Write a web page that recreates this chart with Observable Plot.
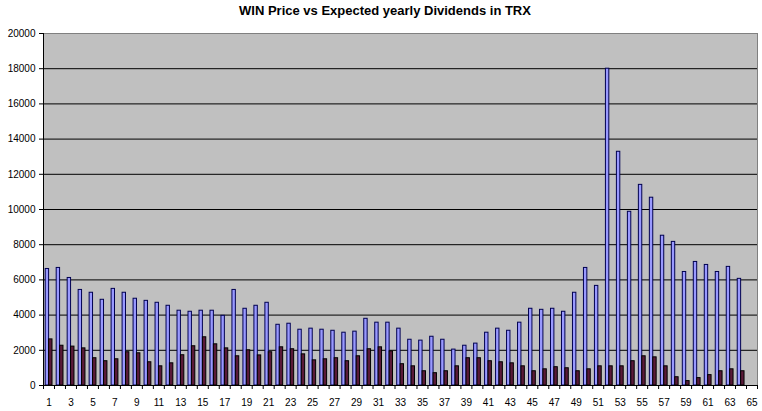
<!DOCTYPE html>
<html>
<head>
<meta charset="utf-8">
<script src="https://cdn.jsdelivr.net/npm/d3@7"></script>
<script src="https://cdn.jsdelivr.net/npm/@observablehq/plot@0.6"></script>
<style>
  html, body { margin: 0; padding: 0; background: #fff; overflow: hidden; }
  #title { box-sizing: border-box; height: 26px; padding-top: 4px; padding-left: 8px;
    font: bold 13px/1 "Liberation Sans", Arial, sans-serif; text-align: center; color: #000; }
  svg { display: block; }
</style>
</head>
<body>
<div id="title">WIN Price vs Expected yearly Dividends in TRX</div>
<div id="chart"></div>
<script>
const categories = [1,2,3,4,5,6,7,8,9,10,11,12,13,14,15,16,17,18,19,20,21,22,23,24,25,26,27,28,29,30,31,32,33,34,35,36,37,38,39,40,41,42,43,44,45,46,47,48,49,50,51,52,53,54,55,56,57,58,59,60,61,62,63,64,65];
const labelCats = [1,3,5,7,9,11,13,15,17,19,21,23,25,27,29,31,33,35,37,39,41,43,45,47,49,51,53,55,57,59,61,63,65];
const price = [6620,6680,6110,5430,5270,4870,5490,5270,4930,4810,
               4700,4530,4250,4190,4250,4250,3960,5430,4360,4530,
               4700,3450,3510,3170,3230,3170,3110,3000,3060,3790,
               3570,3570,3230,2600,2550,2770,2600,2040,2260,2380,
               3000,3230,3110,3570,4360,4300,4360,4190,5270,6680,
               5660,18000,13280,9870,11400,10670,8510,8160,6450,7020,
               6850,6450,6740,6060];
const dividends = [2620,2260,2210,2110,1550,1380,1490,1890,1830,1320,
                   1090,1260,1720,2230,2740,2340,2110,1660,2000,1710,
                   1890,2170,2060,1770,1430,1490,1550,1380,1660,2060,
                   2170,1940,1210,1090,810,700,810,1090,1550,1550,
                   1380,1320,1260,1090,810,920,1040,980,810,920,
                   1090,1090,1090,1380,1660,1600,1090,470,250,420,
                   590,810,920,810];
const yTicks = [0,2000,4000,6000,8000,10000,12000,14000,16000,18000,20000];
const gridTicks = [2000,4000,6000,8000,10000,12000,14000,16000,18000];

const W = 762, ML = 43, MR = 5;
const bw = (W - ML - MR) / categories.length;

const chart = Plot.plot({
  width: W,
  height: 385,
  marginLeft: ML,
  marginRight: MR,
  marginTop: 7,
  marginBottom: 26,
  style: { fontFamily: "'Liberation Sans', Arial, sans-serif", fontSize: "10px", color: "#000", background: "#fff" },
  x: { type: "band", domain: categories, padding: 0 },
  y: { domain: [0, 20000] },
  marks: [
    Plot.frame({ fill: "#C0C0C0", stroke: "#808080" }),
    Plot.gridY(gridTicks, { stroke: "#000", strokeOpacity: 1 }),
    Plot.barY(price, { x: (d, i) => categories[i], y: d => d, fill: "#9999FF", stroke: "#000050",
      insetLeft: 2.2, insetRight: bw - 5.6 }),
    Plot.barY(dividends, { x: (d, i) => categories[i], y: d => d, fill: "#5a1a38", stroke: "#000",
      insetLeft: 5.6, insetRight: bw - 9 }),
    Plot.ruleY([0], { stroke: "#000" }),
    Plot.ruleX([categories[0]], { dx: -bw / 2, stroke: "#000" }),
    Plot.axisY({ ticks: yTicks, tickSize: 4, tickPadding: 4, tickFormat: d3.format("d") }),
    Plot.axisX({ ticks: categories, tickSize: 4, tickFormat: () => "", dx: -bw / 2 }),
    Plot.axisX({ ticks: [categories[categories.length - 1]], tickSize: 4, tickFormat: () => "", dx: bw / 2 }),
    Plot.axisX({ ticks: labelCats, tickSize: 0, tickPadding: 13 })
  ]
});
document.getElementById("chart").appendChild(chart);
</script>
</body>
</html>
